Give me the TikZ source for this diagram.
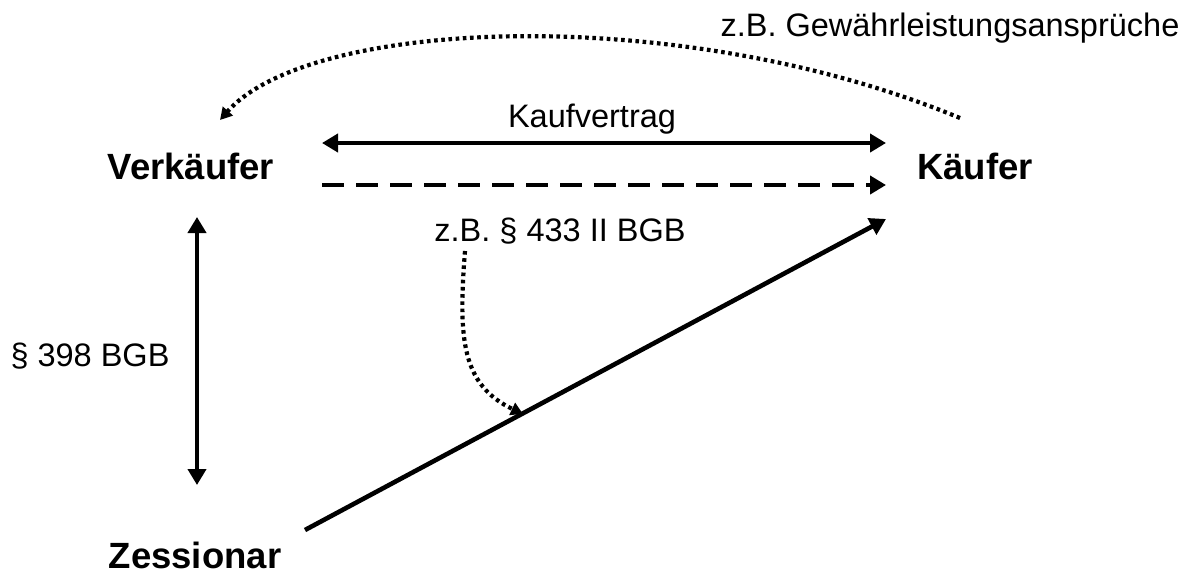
\documentclass[tikz,border=0pt]{standalone}
\usepackage{fontspec}
\setmainfont{Liberation Sans}
\usetikzlibrary{arrows.meta}
\tikzset{
  party/.style={font=\fontsize{36.5}{40}\selectfont\bfseries, inner sep=0pt, anchor=center},
  lbl/.style={font=\fontsize{32.5}{38}\selectfont, inner sep=0pt, anchor=center},
  thick arrow/.style={line width=4.6pt, -{Triangle[length=16pt,width=18pt]}},
  dbl arrow/.style={line width=4.6pt, {Triangle[length=16pt,width=18pt]}-{Triangle[length=16pt,width=18pt]}},
  dashed arrow/.style={line width=4.6pt, dash pattern=on 22pt off 12pt, -{Triangle[length=16pt,width=18pt]}},
  dotted arrow/.style={line width=4.2pt, dash pattern=on 3.6pt off 3.6pt, -{Triangle[length=12pt,width=13pt]}},
}
\begin{document}
\begin{tikzpicture}[x=1pt,y=-1pt]
\useasboundingbox (0,0) rectangle (1191,574);
% parties
\node[party] (verk) at (191,166) {Verkäufer};
\node[party] (kauf) at (975,166) {Käufer};
\node[party] (zess) at (195,555) {Zessionar};
% labels
\node[lbl] (kv) at (592,119) {Kaufvertrag};
\node[lbl] (bgb433) at (560,231) {z.B. § 433 II BGB};
\node[lbl] (bgb398) at (90,356) {§ 398 BGB};
\node[lbl] (gew) at (950,28) {z.B. Gewährleistungsansprüche};
% connector end points
\coordinate (kvL) at (322,143);
\coordinate (kvR) at (886,143);
\coordinate (daL) at (322,185);
\coordinate (daR) at (886,185);
\coordinate (vT) at (197,217);
\coordinate (vB) at (197,485);
\coordinate (zS) at (305,530);
\coordinate (kS) at (886,219);
\coordinate (gS) at (960,118);
\coordinate (gE) at (220,120);
\coordinate (bS) at (465,251);
\coordinate (bE) at (523,414);
% connectors
\draw[dbl arrow] (kvL) -- (kvR);
\draw[dashed arrow] (daL) -- (daR);
\draw[dbl arrow] (vT) -- (vB);
\draw[thick arrow] (zS) -- (kS);
\draw[dotted arrow] (gS) .. controls (680,2) and (310,18) .. (gE);
\draw[dotted arrow] (bS) .. controls (458,340) and (462,385) .. (bE);
\end{tikzpicture}
\end{document}
